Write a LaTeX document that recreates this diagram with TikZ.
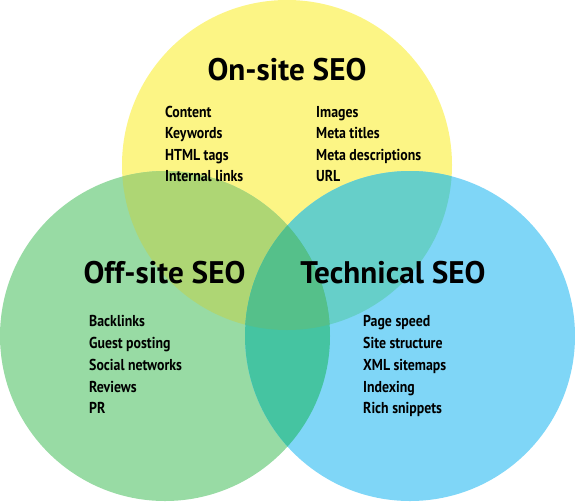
\documentclass[tikz,border=0pt]{standalone}
\usepackage{fontspec}
\setmainfont{PT Sans}
\usetikzlibrary{positioning}
\definecolor{cy}{HTML}{FCF585}
\definecolor{cg}{HTML}{98DBA4}
\definecolor{cb}{HTML}{7FD6F7}
\definecolor{cyg}{HTML}{AED674}
\definecolor{cyb}{HTML}{66CFC9}
\definecolor{cgb}{HTML}{45C4A1}
\definecolor{cygb}{HTML}{55C08A}
\tikzset{
  title/.style={anchor=base, font=\fontsize{31.2}{31}\selectfont\bfseries, inner sep=0pt},
  item/.style={anchor=base west, font=\fontsize{15.8}{16}\selectfont\bfseries\addfontfeature{FakeStretch=0.875}, inner sep=0pt},
}
\begin{document}
\begin{tikzpicture}[x=1pt,y=-1pt]
\useasboundingbox (0,0) rectangle (575,501);
\def\Y{(287,165) circle (165)}
\def\G{(165,336) circle (165)}
\def\B{(410,336) circle (165)}
\fill[cy] \Y;
\fill[cg] \G;
\fill[cb] \B;
\begin{scope}\clip \Y; \fill[cyg] \G; \end{scope}
\begin{scope}\clip \Y; \fill[cyb] \B; \end{scope}
\begin{scope}\clip \G; \fill[cgb] \B; \end{scope}
\begin{scope}\clip \Y; \clip \G; \fill[cygb] \B; \end{scope}
% titles
\node[title] (ton) at (287,80) {On-site SEO};
\node[title] (toff) at (164.5,283) {Off-site SEO};
\node[title] (ttech) at (393,283) {Technical SEO};
% on-site items
\node[item] (c1) at (165,117) {Content};
\node[item] (c2) at (165,138.5) {Keywords};
\node[item] (c3) at (165,160) {HTML tags};
\node[item] (c4) at (165,181.5) {Internal links};
\node[item] (d1) at (316,117) {Images};
\node[item] (d2) at (316,138.5) {Meta titles};
\node[item] (d3) at (316,160) {Meta descriptions};
\node[item] (d4) at (316,181.5) {URL};
% off-site items
\node[item] (o1) at (89,326) {Backlinks};
\node[item] (o2) at (89,348) {Guest posting};
\node[item] (o3) at (89,370) {Social networks};
\node[item] (o4) at (89,392) {Reviews};
\node[item] (o5) at (89,413.5) {PR};
% technical items
\node[item] (t1) at (363,326) {Page speed};
\node[item] (t2) at (363,348) {Site structure};
\node[item] (t3) at (363,370) {XML sitemaps};
\node[item] (t4) at (363,392) {Indexing};
\node[item] (t5) at (363,413.5) {Rich snippets};
\end{tikzpicture}
\end{document}
